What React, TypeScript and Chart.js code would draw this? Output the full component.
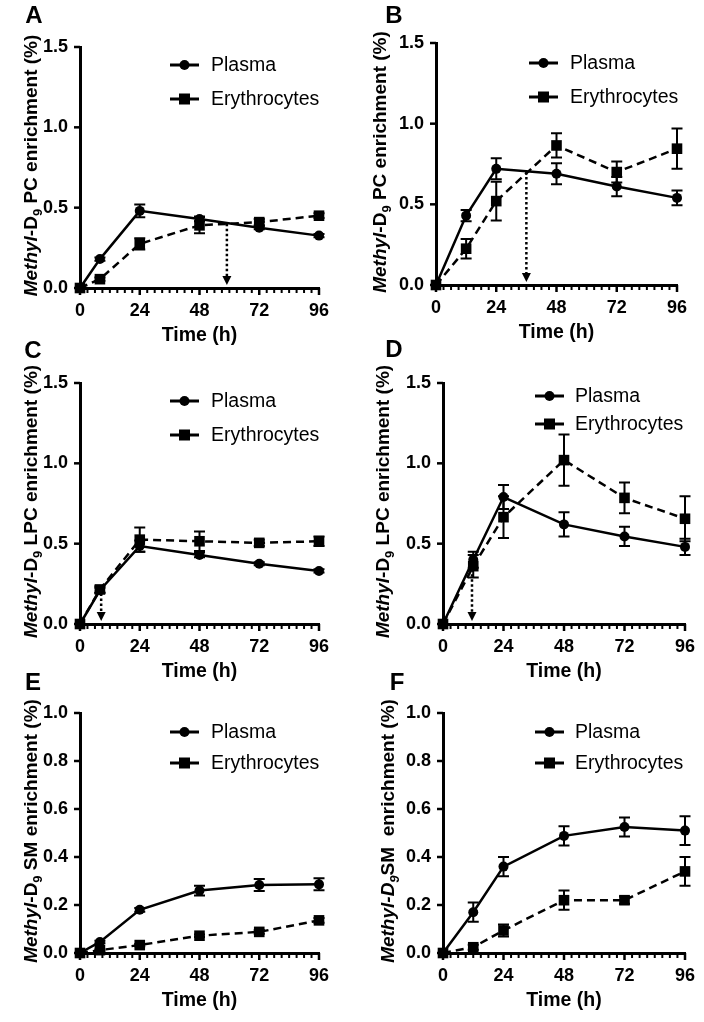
import React, { useEffect, useRef } from 'react';
import { Chart, registerables } from 'chart.js';

Chart.register(...registerables);

const PAGE_W = 704;
const PAGE_H = 1022;
const FONT = 'Arial, "Liberation Sans", sans-serif';

// ---------- data ----------
const timesLeft = [0, 8, 24, 48, 72, 96];
const timesRight = [0, 12, 24, 48, 72, 96];
const xTickValues = [0, 24, 48, 72, 96];
const xMinorStep = 3;
const yTicksPC = [0, 0.5, 1.0, 1.5];
const yTicksSM = [0, 0.2, 0.4, 0.6, 0.8, 1.0];
const seriesNames = ['Plasma', 'Erythrocytes'];
const xTitle = 'Time (h)';

// A: PC, left
const pcPlasmaA = [0, 0.18, 0.48, 0.43, 0.375, 0.326];
const pcPlasmaErrA = [0, 0.01, 0.04, 0.015, 0.01, 0.01];
const pcEryA = [0, 0.055, 0.275, 0.39, 0.41, 0.45];
const pcEryErrA = [0, 0.01, 0.035, 0.05, 0.02, 0.015];
// B: PC, right
const pcPlasmaB = [0, 0.43, 0.72, 0.69, 0.61, 0.54];
const pcPlasmaErrB = [0, 0.035, 0.065, 0.065, 0.06, 0.045];
const pcEryB = [0, 0.225, 0.52, 0.865, 0.7, 0.845];
const pcEryErrB = [0, 0.06, 0.12, 0.075, 0.065, 0.125];
// C: LPC, left
const lpcPlasmaC = [0, 0.21, 0.485, 0.43, 0.375, 0.33];
const lpcPlasmaErrC = [0, 0.015, 0.035, 0.015, 0.01, 0.01];
const lpcEryC = [0, 0.215, 0.525, 0.515, 0.505, 0.515];
const lpcEryErrC = [0, 0.02, 0.075, 0.06, 0.02, 0.03];
// D: LPC, right
const lpcPlasmaD = [0, 0.4, 0.79, 0.62, 0.545, 0.48];
const lpcPlasmaErrD = [0, 0.05, 0.075, 0.075, 0.06, 0.05];
const lpcEryD = [0, 0.36, 0.665, 1.02, 0.785, 0.655];
const lpcEryErrD = [0, 0.07, 0.13, 0.16, 0.095, 0.14];
// E: SM, left
const smPlasmaE = [0, 0.046, 0.18, 0.26, 0.283, 0.286];
const smPlasmaErrE = [0, 0.005, 0.008, 0.02, 0.025, 0.025];
const smEryE = [0, 0.012, 0.033, 0.072, 0.088, 0.136];
const smEryErrE = [0, 0.003, 0.005, 0.005, 0.008, 0.01];
// F: SM, right
const smPlasmaF = [0, 0.17, 0.36, 0.488, 0.525, 0.51];
const smPlasmaErrF = [0, 0.04, 0.04, 0.04, 0.04, 0.06];
const smEryF = [0, 0.024, 0.094, 0.22, 0.22, 0.34];
const smEryErrF = [0, 0.01, 0.025, 0.04, 0.015, 0.06];

// crossing arrows (time, level)
const arrowA = [59, 0.4];
const arrowB = [36, 0.7];
const arrowC = [8.5, 0.19];
const arrowD = [11.5, 0.34];

type Seg = { t: string; it?: boolean; sub?: boolean };
const titlePC: Seg[] = [{ t: 'Methyl', it: true }, { t: '-D' }, { t: '9', sub: true }, { t: ' PC enrichment (%)' }];
const titleLPC: Seg[] = [{ t: 'Methyl', it: true }, { t: '-D' }, { t: '9', sub: true }, { t: ' LPC enrichment (%)' }];
const titleSME: Seg[] = [{ t: 'Methyl', it: true }, { t: '-D' }, { t: '9', sub: true }, { t: ' SM enrichment (%)' }];
const titleSMF: Seg[] = [{ t: 'Methyl-D', it: true }, { t: '9', sub: true, it: true }, { t: 'SM  enrichment (%)' }];

// ---------- layout (page coordinates) ----------
const panels = [
  { letter: 'A', times: timesLeft, plasma: pcPlasmaA, plasmaErr: pcPlasmaErrA, ery: pcEryA, eryErr: pcEryErrA, yTicks: yTicksPC, arrow: arrowA, title: titlePC,
    box: { l: 80, r: 319, t: 47, b: 288 }, letterPos: [34, 16], legend: { x: 170, tx: 211, y1: 65, y2: 99 }, yTitleX: 37 },
  { letter: 'B', times: timesRight, plasma: pcPlasmaB, plasmaErr: pcPlasmaErrB, ery: pcEryB, eryErr: pcEryErrB, yTicks: yTicksPC, arrow: arrowB, title: titlePC,
    box: { l: 436, r: 677, t: 43, b: 285 }, letterPos: [394, 16], legend: { x: 529, tx: 570, y1: 63, y2: 97 }, yTitleX: 386 },
  { letter: 'C', times: timesLeft, plasma: lpcPlasmaC, plasmaErr: lpcPlasmaErrC, ery: lpcEryC, eryErr: lpcEryErrC, yTicks: yTicksPC, arrow: arrowC, title: titleLPC,
    box: { l: 80, r: 319, t: 383, b: 624 }, letterPos: [33, 351], legend: { x: 170, tx: 211, y1: 401, y2: 435 }, yTitleX: 37 },
  { letter: 'D', times: timesRight, plasma: lpcPlasmaD, plasmaErr: lpcPlasmaErrD, ery: lpcEryD, eryErr: lpcEryErrD, yTicks: yTicksPC, arrow: arrowD, title: titleLPC,
    box: { l: 443, r: 685, t: 383, b: 624 }, letterPos: [394, 350], legend: { x: 535, tx: 575, y1: 396, y2: 424 }, yTitleX: 389 },
  { letter: 'E', times: timesLeft, plasma: smPlasmaE, plasmaErr: smPlasmaErrE, ery: smEryE, eryErr: smEryErrE, yTicks: yTicksSM, arrow: null, title: titleSME,
    box: { l: 80, r: 319, t: 713, b: 953 }, letterPos: [33, 683], legend: { x: 170, tx: 211, y1: 732, y2: 763 }, yTitleX: 37 },
  { letter: 'F', times: timesRight, plasma: smPlasmaF, plasmaErr: smPlasmaErrF, ery: smEryF, eryErr: smEryErrF, yTicks: yTicksSM, arrow: null, title: titleSMF,
    box: { l: 443, r: 685, t: 713, b: 953 }, letterPos: [397, 683], legend: { x: 535, tx: 575, y1: 732, y2: 763 }, yTitleX: 394 },
];

const Y_SCALE_W = 60;
const X_SCALE_H = 40;
const LINE_W = 2.5;
const DASH = [8, 5];
const CIRCLE_R = 5;
const RECT_R = 7.5;
const TITLE_SIZE = 19;

function fontStr(size: number, bold: boolean, italic: boolean) {
  return `${italic ? 'italic ' : ''}${bold ? 'bold ' : ''}${size}px ${FONT}`;
}

function makePlugin(cfg: any) {
  return {
    id: 'decor' + cfg.letter,
    beforeDatasetsDraw(chart: any) {
      const { ctx } = chart;
      const xs = chart.scales.x;
      const ys = chart.scales.y;
      ctx.save();
      ctx.strokeStyle = '#000';
      ctx.lineWidth = 2;
      ctx.setLineDash([]);
      chart.data.datasets.forEach((ds: any) => {
        const errs: number[] = ds.errs;
        ds.data.forEach((p: any, j: number) => {
          const e = errs[j];
          if (!e) return;
          const px = xs.getPixelForValue(p.x);
          const yt = ys.getPixelForValue(p.y + e);
          const yb = ys.getPixelForValue(p.y - e);
          ctx.beginPath();
          ctx.moveTo(px, yt); ctx.lineTo(px, yb);
          ctx.moveTo(px - 5.5, yt); ctx.lineTo(px + 5.5, yt);
          ctx.moveTo(px - 5.5, yb); ctx.lineTo(px + 5.5, yb);
          ctx.stroke();
        });
      });
      ctx.restore();
    },
    afterDraw(chart: any) {
      const { ctx, chartArea: ca } = chart;
      const xs = chart.scales.x;
      const ys = chart.scales.y;
      ctx.save();
      ctx.fillStyle = '#000';
      ctx.strokeStyle = '#000';
      ctx.setLineDash([]);
      // x ticks (major + minor)
      for (let t = 0; t <= 96; t += xMinorStep) {
        const major = t % 24 === 0;
        const px = xs.getPixelForValue(t);
        ctx.lineWidth = major ? 2.5 : 2;
        ctx.beginPath();
        ctx.moveTo(px, ca.bottom);
        ctx.lineTo(px, ca.bottom + (major ? 7 : 5));
        ctx.stroke();
      }
      // y ticks
      ctx.lineWidth = 2.5;
      cfg.yTicks.forEach((v: number) => {
        const py = ys.getPixelForValue(v);
        ctx.beginPath();
        ctx.moveTo(ca.left - 6, py);
        ctx.lineTo(ca.left, py);
        ctx.stroke();
      });
      // arrow
      if (cfg.arrow) {
        const px = xs.getPixelForValue(cfg.arrow[0]);
        const y1 = ys.getPixelForValue(cfg.arrow[1]);
        const y2 = ca.bottom - 3;
        ctx.lineWidth = 2.5;
        ctx.setLineDash([2.5, 2.5]);
        ctx.beginPath();
        ctx.moveTo(px, y1);
        ctx.lineTo(px, y2 - 7);
        ctx.stroke();
        ctx.setLineDash([]);
        ctx.beginPath();
        ctx.moveTo(px - 4.5, y2 - 9);
        ctx.lineTo(px + 4.5, y2 - 9);
        ctx.lineTo(px, y2);
        ctx.closePath();
        ctx.fill();
      }
      // legend
      const lg = cfg.legend;
      const drawLegend = (y: number, kind: 'circle' | 'rect', label: string) => {
        ctx.lineWidth = 3;
        ctx.beginPath();
        ctx.moveTo(lg.x, y);
        ctx.lineTo(lg.x + 29, y);
        ctx.stroke();
        const cx = lg.x + 14.5;
        if (kind === 'circle') {
          ctx.beginPath();
          ctx.arc(cx, y, CIRCLE_R, 0, Math.PI * 2);
          ctx.fill();
        } else {
          ctx.fillRect(cx - 5.5, y - 5.5, 11, 11);
        }
        ctx.font = fontStr(19.5, false, false);
        ctx.textAlign = 'left';
        ctx.textBaseline = 'middle';
        ctx.fillText(label, lg.tx, y + 1);
      };
      drawLegend(lg.y1, 'circle', seriesNames[0]);
      drawLegend(lg.y2, 'rect', seriesNames[1]);
      // x title
      ctx.font = fontStr(19.5, true, false);
      ctx.textAlign = 'center';
      ctx.textBaseline = 'middle';
      ctx.fillText(xTitle, (ca.left + ca.right) / 2, ca.bottom + 48);
      // panel letter
      ctx.font = fontStr(24, true, false);
      ctx.fillText(cfg.letter, cfg.letterPos[0], cfg.letterPos[1]);
      // y title (rich, rotated)
      const segs: Seg[] = cfg.title;
      const widths = segs.map((s) => {
        ctx.font = s.sub ? fontStr(13, true, !!s.it) : fontStr(TITLE_SIZE, true, !!s.it);
        return ctx.measureText(s.t).width;
      });
      const total = widths.reduce((a, b) => a + b, 0);
      ctx.translate(cfg.yTitleX, (ca.top + ca.bottom) / 2 - 2);
      ctx.rotate(-Math.PI / 2);
      ctx.textAlign = 'left';
      ctx.textBaseline = 'alphabetic';
      let cx = -total / 2;
      segs.forEach((s, i) => {
        ctx.font = s.sub ? fontStr(13, true, !!s.it) : fontStr(TITLE_SIZE, true, !!s.it);
        ctx.fillText(s.t, cx, s.sub ? 5 : 0);
        cx += widths[i];
      });
      ctx.restore();
    },
  };
}

function Panel({ cfg }: { cfg: any }) {
  const ref = useRef<HTMLCanvasElement>(null);
  useEffect(() => {
    if (!ref.current) return;
    const tickFont = { family: FONT, size: 18, weight: 'bold' as const };
    const yMax = cfg.yTicks[cfg.yTicks.length - 1];
    const chart = new Chart(ref.current, {
      type: 'line',
      data: {
        datasets: [
          {
            label: seriesNames[1],
            data: cfg.times.map((t: number, i: number) => ({ x: t, y: cfg.ery[i] })),
            errs: cfg.eryErr,
            borderColor: '#000',
            backgroundColor: '#000',
            borderWidth: LINE_W,
            borderDash: DASH,
            pointStyle: 'rect',
            pointRadius: RECT_R,
            pointBorderWidth: 0,
            pointBackgroundColor: '#000',
            tension: 0,
            clip: false,
          } as any,
          {
            label: seriesNames[0],
            data: cfg.times.map((t: number, i: number) => ({ x: t, y: cfg.plasma[i] })),
            errs: cfg.plasmaErr,
            borderColor: '#000',
            backgroundColor: '#000',
            borderWidth: LINE_W,
            pointStyle: 'circle',
            pointRadius: CIRCLE_R,
            pointBorderWidth: 0,
            pointBackgroundColor: '#000',
            tension: 0,
            clip: false,
          } as any,
        ],
      },
      options: {
        animation: false,
        responsive: false,
        devicePixelRatio: 1,
        events: [],
        layout: {
          autoPadding: false,
          padding: {
            left: cfg.box.l - Y_SCALE_W,
            top: cfg.box.t,
            right: PAGE_W - cfg.box.r,
            bottom: PAGE_H - cfg.box.b - X_SCALE_H,
          },
        },
        plugins: { legend: { display: false }, tooltip: { enabled: false }, title: { display: false } },
        scales: {
          x: {
            type: 'linear',
            min: 0,
            max: 96,
            afterBuildTicks: (s: any) => { s.ticks = xTickValues.map((v) => ({ value: v })); },
            afterFit: (s: any) => { s.height = X_SCALE_H; s.paddingLeft = 0; s.paddingRight = 0; },
            ticks: { font: tickFont, color: '#000', padding: 12, autoSkip: false, maxRotation: 0, callback: (v: any) => String(v) },
            grid: { display: false, drawTicks: false },
            border: { display: true, color: '#000', width: 3 },
          },
          y: {
            type: 'linear',
            min: 0,
            max: yMax,
            afterBuildTicks: (s: any) => { s.ticks = cfg.yTicks.map((v: number) => ({ value: v })); },
            afterFit: (s: any) => { s.width = Y_SCALE_W; s.paddingTop = 0; s.paddingBottom = 0; },
            ticks: { font: tickFont, color: '#000', padding: 12, autoSkip: false, callback: (v: any) => Number(v).toFixed(1) },
            grid: { display: false, drawTicks: false },
            border: { display: true, color: '#000', width: 3 },
          },
        },
      } as any,
      plugins: [makePlugin(cfg)],
    });
    return () => chart.destroy();
  }, [cfg]);
  return (
    <canvas
      ref={ref}
      width={PAGE_W}
      height={PAGE_H}
      style={{ position: 'absolute', left: 0, top: 0, width: PAGE_W, height: PAGE_H }}
    />
  );
}

export default function App() {
  return (
    <div style={{ position: 'absolute', left: 0, top: 0, width: PAGE_W, height: PAGE_H, background: '#fff', overflow: 'hidden' }}>
      {panels.map((p) => (
        <Panel key={p.letter} cfg={p} />
      ))}
    </div>
  );
}
